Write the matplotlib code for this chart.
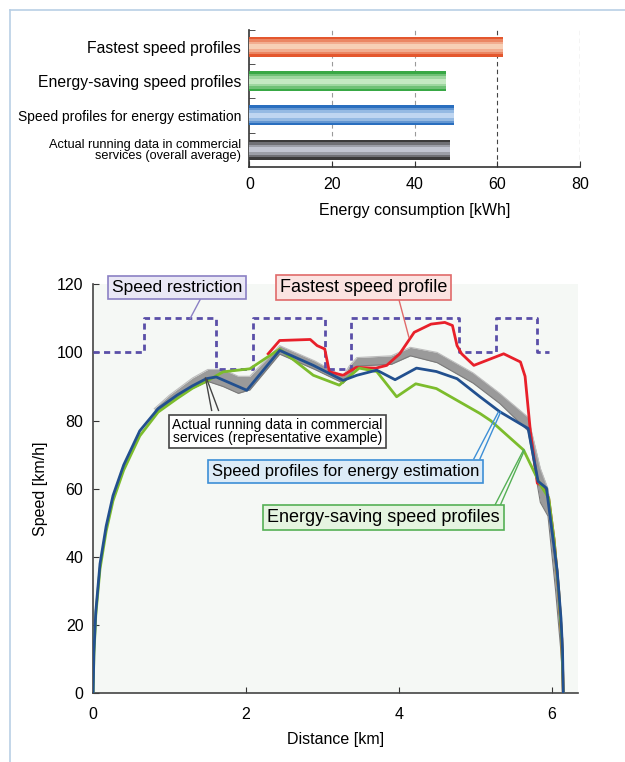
import matplotlib.pyplot as plt
import numpy as np
from matplotlib.colors import to_rgb

plt.rcParams['font.family'] = ['Liberation Sans', 'DejaVu Sans']

## -- top chart: energy consumption per profile type
bar_labels = ['Fastest speed profiles',
              'Energy-saving speed profiles',
              'Speed profiles for energy estimation',
              'Actual running data in commercial\nservices (overall average)']
bar_values = [61.4, 47.6, 49.4, 48.6]
bar_outer = ['#e4572e', '#38a845', '#2a6fbf', '#3a3a3a']
bar_inner = ['#f9dcc4', '#d4f0d0', '#cfe2f6', '#d0d4e2']

## -- bottom chart: speed profiles over distance
lim_x = [0.0, 0.66, 0.66, 1.61, 1.61, 2.09, 2.09, 3.03, 3.03, 3.37, 3.37, 4.78, 4.78, 5.27, 5.27, 5.80, 5.80, 5.96]
lim_v = [100, 100, 110, 110, 95, 95, 110, 110, 95, 95, 110, 110, 100, 100, 110, 110, 100, 100]

blue_x = [0, 0.01, 0.035, 0.09, 0.17, 0.26, 0.40, 0.61, 0.85, 1.10, 1.30, 1.48, 1.61, 2.01, 2.44, 2.88, 3.27, 3.45,
          3.71, 3.95, 4.23, 4.49, 4.76, 5.06, 5.32, 5.69, 5.82, 5.93, 6.00, 6.07, 6.12, 6.14, 6.15]
blue_v = [0, 12, 24, 38, 49, 58, 67, 77, 83.5, 87.5, 90.2, 92.3, 92.8, 88.9, 100.6, 96.2, 91.8, 93.3,
          94.8, 92.0, 95.4, 94.4, 92.3, 87.0, 82.6, 77.7, 62.2, 60.2, 48, 36, 22, 12.8, 0]

green_x = [0, 0.01, 0.035, 0.09, 0.17, 0.26, 0.40, 0.61, 0.85, 1.10, 1.30, 1.48, 1.70, 2.05, 2.44, 2.88, 3.22, 3.48,
           3.71, 3.97, 4.22, 4.49, 5.06, 5.20, 5.63, 5.85, 5.96, 6.03, 6.09, 6.13, 6.15]
green_v = [0, 11, 23, 36.5, 47.5, 56.5, 65.5, 75.5, 82.5, 86.5, 89.5, 91.5, 94.3, 95.2, 101.0, 93.3, 90.4, 95.4,
           94.4, 87.0, 90.8, 89.4, 82.1, 80.0, 71.4, 61.2, 57.3, 45, 30, 16, 0]

red_x = [2.29, 2.44, 2.84, 2.93, 3.03, 3.09, 3.27, 3.44, 3.70, 3.84, 4.01, 4.20, 4.42, 4.60, 4.70, 4.76, 4.82,
         4.98, 5.37, 5.59, 5.65, 5.72, 5.81, 5.90, 5.96, 6.03, 6.09, 6.13, 6.15]
red_v = [99.6, 103.5, 103.8, 102.0, 101.0, 94.3, 93.3, 95.6, 95.4, 96.2, 99.6, 105.9, 108.3, 108.8, 107.9, 102, 99.6,
         96.2, 99.6, 97.2, 93, 76.8, 61.7, 60.5, 57, 45, 30, 16, 0]

## -- actual running data: spread of many runs (lower/upper envelope)
gray_x = [0.8, 1.0, 1.3, 1.5, 1.7, 1.9, 2.05, 2.44, 2.9, 3.27, 3.35, 3.45, 3.9, 4.15, 4.5, 4.97, 5.32, 5.69,
          5.85, 5.95, 6.05, 6.12, 6.15]
gray_lo = [82, 85.5, 89.5, 91.5, 90, 88, 89, 99.5, 95, 91, 93, 96, 96.5, 99, 97, 91, 85, 77,
           56, 52, 30, 12, 0]
gray_hi = [83.5, 87.5, 92.5, 95, 95, 93, 93, 102, 97.5, 93, 96, 98.5, 99, 101.5, 100, 94, 88, 81,
           66, 60, 42, 20, 4]

fig = plt.figure(figsize=(6.25, 7.62), dpi=100)

## -- thin light-blue frame of the page
fig.add_artist(plt.Line2D([0.016, 1.0], [0.987, 0.987], color='#b9cfe5', lw=1.2, transform=fig.transFigure))
fig.add_artist(plt.Line2D([0.016, 0.016], [0.0, 0.987], color='#b9cfe5', lw=1.2, transform=fig.transFigure))

## ---------------- top bar chart ----------------
ax1 = fig.add_axes([0.399, 0.781, 0.529, 0.180])
ypos = np.arange(len(bar_values))[::-1]
layers = [(0.58, 0.0), (0.44, 0.35), (0.30, 0.65), (0.14, 0.9)]
for y, v, co, ci in zip(ypos, bar_values, bar_outer, bar_inner):
 c0 = np.array(to_rgb(co))
 c1 = np.array(to_rgb(ci))
 for h, f in layers:
  ax1.barh(y, v, height=h, color=c0 * (1 - f) + c1 * f, zorder=3)
for gx, gc in zip([20, 40, 60, 80], ['#9a9a9a', '#9a9a9a', '#444444', '#444444']):
 ax1.axvline(gx, color=gc, lw=0.8, ls=(0, (4, 3)), zorder=1)
ax1.set_xlim(0, 80)
ax1.set_ylim(-0.5, 3.5)
ax1.set_xticks([0, 20, 40, 60, 80])
ax1.set_yticks(ypos)
ax1.set_yticklabels(bar_labels, linespacing=0.9)
lab = ax1.get_yticklabels()
lab[0].set_fontsize(11.3)
lab[1].set_fontsize(11.3)
lab[2].set_fontsize(10)
lab[3].set_fontsize(9.2)
ax1.set_yticks([0.5, 1.5, 2.5, 3.5], minor=True)
ax1.tick_params(axis='y', which='major', length=0, pad=6)
ax1.tick_params(axis='y', which='minor', direction='in', length=4, color='#333333')
ax1.tick_params(axis='x', direction='in', length=4, labelsize=11.5, pad=7, color='#333333')
ax1.set_xlabel('Energy consumption [kWh]', fontsize=11.5, labelpad=8)
for s in ['top', 'right']:
 ax1.spines[s].set_visible(False)
for s in ['left', 'bottom']:
 ax1.spines[s].set_color('#333333')
 ax1.spines[s].set_linewidth(1.2)

## ---------------- bottom speed chart ----------------
ax2 = fig.add_axes([0.149, 0.090, 0.7755, 0.537])
ax2.set_facecolor('#f5f8f5')
ax2.fill_between(gray_x, gray_lo, gray_hi, color='#9a9a9a', lw=0, zorder=2)
ax2.plot(gray_x, gray_lo, color='#7a7a7a', lw=0.8, zorder=2)
ax2.plot(gray_x, gray_hi, color='#bdbdbd', lw=0.8, zorder=2)
ax2.plot(lim_x, lim_v, color='#5a4fa8', lw=2, ls=(0, (2.2, 1.6)), zorder=3)
ax2.plot(red_x, red_v, color='#e8202a', lw=2, zorder=4)
ax2.plot(green_x, green_v, color='#7cbc2c', lw=2, zorder=5)
ax2.plot(blue_x, blue_v, color='#22508f', lw=2, zorder=6)

ax2.set_xlim(0, 6.34)
ax2.set_ylim(0, 120)
ax2.set_xticks([0, 2, 4, 6])
ax2.set_yticks(range(0, 121, 20))
ax2.tick_params(direction='in', length=4, labelsize=11.5, color='#333333')
ax2.tick_params(axis='y', pad=7)
ax2.tick_params(axis='x', pad=10)
ax2.set_xlabel('Distance [km]', fontsize=11.5, labelpad=7)
ax2.set_ylabel('Speed [km/h]', fontsize=11.5, labelpad=6)
for s in ['top', 'right']:
 ax2.spines[s].set_visible(False)
for s in ['left', 'bottom']:
 ax2.spines[s].set_color('#444444')
 ax2.spines[s].set_linewidth(1.2)

## -- callouts
def callout(x, y, txt, fc, ec, tips, size=11):
 ax2.text(x, y, txt, fontsize=size, ha='center', va='center', linespacing=0.92, zorder=8,
  bbox=dict(boxstyle='square,pad=0.22', fc=fc, ec=ec, lw=1.2))
 for (x0, y0, x1, y1) in tips:
  ax2.plot([x0, x1], [y0, y1], color=ec, lw=1.0, zorder=7, clip_on=False)

callout(1.10, 119.0, 'Speed restriction', '#e9e7f5', '#8b80c4',
 [(1.40, 115.5, 1.27, 110)], size=12.5)
callout(3.54, 119.0, 'Fastest speed profile', '#fbe3e1', '#e06a6a',
 [(4.00, 115.5, 4.13, 104.5)], size=13)
callout(2.41, 76.8, 'Actual running data in commercial\nservices (representative example)', 'white', '#444444',
 [(1.47, 92.5, 1.55, 83.0), (1.49, 92.0, 1.64, 83.0)], size=10)
callout(3.30, 65.1, 'Speed profiles for energy estimation', '#dcebf7', '#3d8fd6',
 [(4.98, 68.8, 5.30, 82.5), (5.06, 68.8, 5.33, 82.5)], size=12)
callout(3.80, 51.5, 'Energy-saving speed profiles', '#e5f4e0', '#55b055',
 [(5.26, 55.4, 5.63, 71.4), (5.33, 55.4, 5.64, 71.2)], size=13)

fig.savefig('out.png', dpi=100)
